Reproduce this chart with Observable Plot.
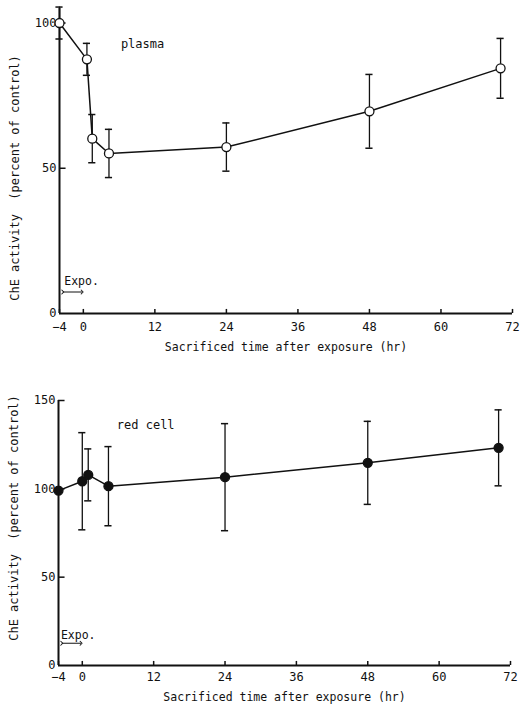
<!DOCTYPE html>
<html><head><meta charset="utf-8">
<script src="https://cdn.jsdelivr.net/npm/d3@7"></script>
<script src="https://cdn.jsdelivr.net/npm/@observablehq/plot@0.6"></script>
<style>
body{margin:0;background:#fff;}
#chart svg{display:block;background:#fff;}
</style>
</head><body><div id="chart"></div>
<script>
// ---- data ----
const xTicks = [-4, 0, 12, 24, 36, 48, 60, 72];
const plasmaYTicks = [0, 50, 100];
const redYTicks = [0, 50, 100, 150];

const plasmaTime = [-4, 0.6, 1.5, 4.3, 24, 48, 70];
const plasmaMean = [100, 87.5, 60.2, 55.1, 57.3, 69.6, 84.4];
const plasmaErr  = [5.5, 5.5, 8.3, 8.3, 8.3, 12.7, 10.3];

const redTime = [-4, 0, 1, 4.4, 24, 48, 70];
const redMean = [99, 104.3, 107.9, 101.5, 106.6, 114.7, 123.2];
const redErr  = [0, 27.5, 14.7, 22.4, 30.3, 23.5, 21.5];

const yLabel = "ChE activity  (percent of control)";
const xLabel = "Sacrificed time after exposure (hr)";
const expoText = "Expo.";
const expoStart = -4, expoEnd = 0;

const MONO = "'DejaVu Sans Mono', 'Liberation Mono', monospace";

function panel({time, mean, err, yTicks, yMax, open, name, nameX, nameY,
                expoY, expoTextX, expoTextY, height, marginTop, marginBottom,
                marginLeft, marginRight, tickPad, yTickLen, xTickLen, yLabelDy}) {
  const rows = time.map((t, i) => ({t, m: mean[i], e: err[i]}));
  const withErr = rows.filter(d => d.e > 0);
  return Plot.plot({
    width: 520, height, marginTop, marginBottom, marginLeft, marginRight,
    style: {fontFamily: MONO, fontSize: "12px", color: "#111", background: "#fff"},
    x: {domain: [-4, 72], label: null},
    y: {domain: [0, yMax], label: null},
    marks: [
      Plot.axisX(xTicks, {tickSize: 0, tickPadding: tickPad, fontSize: 12, label: null}),
      Plot.axisY(yTicks, {tickSize: 0, tickPadding: 3, fontSize: 12, label: null}),
      // tick marks pointing inward
      Plot.ruleX(xTicks, {x: d => d, y1: 0, y2: xTickLen, strokeWidth: 1.5, stroke: "#111"}),
      Plot.ruleY(yTicks.filter(v => v > 0), {y: d => d, x1: -4, x2: -4 + yTickLen, strokeWidth: 1.5, stroke: "#111"}),
      // frame axes
      Plot.ruleX([-4], {y1: 0, y2: yMax, strokeWidth: 2, stroke: "#111"}),
      Plot.ruleY([0], {x1: -4, x2: 72, strokeWidth: 2, stroke: "#111"}),
      // error bars
      Plot.ruleX(withErr, {x: "t", y1: d => d.m - d.e, y2: d => d.m + d.e, strokeWidth: 1.3, stroke: "#111"}),
      Plot.ruleY(withErr, {y: d => d.m + d.e, x1: d => d.t - 0.6, x2: d => d.t + 0.6, strokeWidth: 1.5, stroke: "#111"}),
      Plot.ruleY(withErr, {y: d => d.m - d.e, x1: d => d.t - 0.6, x2: d => d.t + 0.6, strokeWidth: 1.5, stroke: "#111"}),
      // line and dots
      Plot.line(rows, {x: "t", y: "m", stroke: "#111", strokeWidth: 1.5}),
      Plot.dot(rows, {x: "t", y: "m", r: 4.5, stroke: "#111", strokeWidth: 1.3, fill: open ? "#fff" : "#111"}),
      // labels
      Plot.text([name], {x: nameX, y: nameY, text: d => d, textAnchor: "start", fontSize: 12, fill: "#111"}),
      Plot.link([{x1: expoStart + 0.55, x2: expoEnd - 0.2, y: expoY}], {x1: "x1", x2: "x2", y1: "y", y2: "y", stroke: "#111", strokeWidth: 1, markerStart: "arrow", markerEnd: "arrow"}),
      Plot.text([expoText], {x: expoTextX, y: expoTextY, text: d => d, textAnchor: "start", fontSize: 11.5, fill: "#111"}),
      Plot.text([yLabel], {frameAnchor: "left", textAnchor: "middle", text: d => d, rotate: -90, dx: -44, dy: yLabelDy, fontSize: 12, fill: "#111", letterSpacing: "1px"}),
      Plot.text([xLabel], {frameAnchor: "bottom", textAnchor: "middle", text: d => d, dy: tickPad + 28, fontSize: 11.5, fill: "#111"})
    ]
  });
}

const chart = document.getElementById("chart");
chart.appendChild(panel({
  time: plasmaTime, mean: plasmaMean, err: plasmaErr, yTicks: plasmaYTicks, yMax: 105,
  open: true, name: "plasma", nameX: 6.3, nameY: 92.6,
  expoY: 7.4, expoTextX: -3.2, expoTextY: 11,
  height: 360, marginTop: 8, marginBottom: 47, marginLeft: 59, marginRight: 8,
  tickPad: 9, yTickLen: 1.1, xTickLen: 1.4, yLabelDy: 17
}));
chart.appendChild(panel({
  time: redTime, mean: redMean, err: redErr, yTicks: redYTicks, yMax: 150,
  open: false, name: "red cell", nameX: 5.8, nameY: 136,
  expoY: 12.6, expoTextX: -3.6, expoTextY: 17,
  height: 351, marginTop: 40, marginBottom: 46, marginLeft: 58, marginRight: 10,
  tickPad: 7, yTickLen: 1.1, xTickLen: 2.3, yLabelDy: -15
}));
</script>
</body></html>
